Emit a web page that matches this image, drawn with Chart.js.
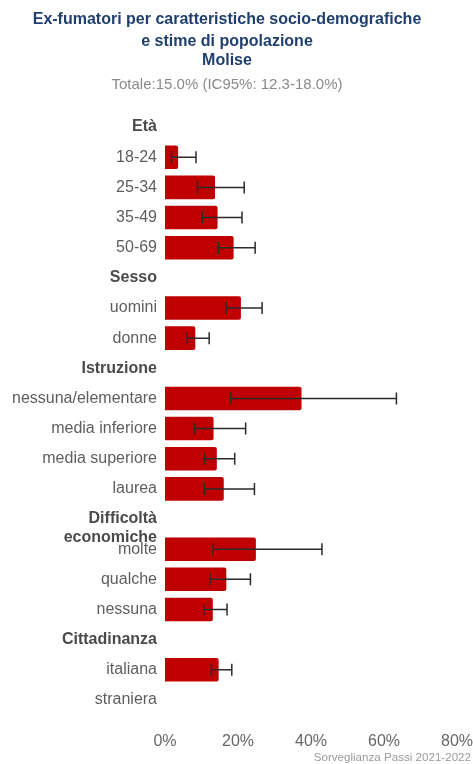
<!DOCTYPE html>
<html>
<head>
<meta charset="utf-8">
<script src="https://cdn.jsdelivr.net/npm/chart.js@4"></script>
<style>
  html, body { margin: 0; padding: 0; background: #fff; }
  #wrap { width: 473px; height: 764px; }
</style>
</head>
<body>
<div id="wrap"><canvas id="grafico" width="473" height="764"></canvas></div>
<script>
// --- Dati ---
const categorie = ['Età', '18-24', '25-34', '35-49', '50-69',
  'Sesso', 'uomini', 'donne',
  'Istruzione', 'nessuna/elementare', 'media inferiore', 'media superiore', 'laurea',
  ['', 'Difficoltà', 'economiche'], 'molte', 'qualche', 'nessuna',
  'Cittadinanza', 'italiana', 'straniera'];
const intestazioni = [0, 5, 8, 13, 17];
const valori = [null, 3.6, 13.7, 14.4, 18.8, null, 20.8, 8.3, null, 37.4, 13.3, 14.2, 16.1, null, 24.9, 16.8, 13.1, null, 14.7, null];
const icInf  = [null, 1.8, 8.9, 10.2, 14.6, null, 16.7, 6.1, null, 18.0, 8.1, 10.8, 10.8, null, 13.2, 12.3, 10.6, null, 12.7, null];
const icSup  = [null, 8.5, 21.7, 21.1, 24.7, null, 26.6, 12.1, null, 63.4, 22.1, 19.1, 24.5, null, 43.0, 23.4, 17.0, null, 18.3, null];
const tickX = [0, 20, 40, 60, 80];
const titolo = ['Ex-fumatori per caratteristiche socio-demografiche', 'e stime di popolazione', 'Molise'];
const sottotitolo = 'Totale:15.0% (IC95%: 12.3-18.0%)';
const fonte = 'Sorveglianza Passi 2021-2022';

const FONT = "'Liberation Sans', Arial, Helvetica, sans-serif";

// --- Barre di errore ---
const erroriPlugin = {
    id: 'errori',
    afterDatasetsDraw(chart) {
        const { ctx } = chart;
        const x = chart.scales.x, y = chart.scales.y;
        ctx.save();
        ctx.strokeStyle = '#2b2b2b';
        ctx.lineWidth = 1.5;
        valori.forEach((v, i) => {
            if (v === null || icInf[i] === null) return;
            const yc = y.getPixelForValue(i);
            const x1 = x.getPixelForValue(icInf[i]);
            const x2 = x.getPixelForValue(icSup[i]);
            ctx.beginPath();
            ctx.moveTo(x1, yc); ctx.lineTo(x2, yc);
            ctx.moveTo(x1, yc - 6); ctx.lineTo(x1, yc + 6);
            ctx.moveTo(x2, yc - 6); ctx.lineTo(x2, yc + 6);
            ctx.stroke();
        });
        ctx.restore();
    }
};

// --- Titolo, sottotitolo e fonte ---
const testiPlugin = {
    id: 'testi',
    afterDraw(chart) {
        const { ctx, width } = chart;
        ctx.save();
        ctx.textAlign = 'center';
        ctx.textBaseline = 'middle';
        ctx.font = 'bold 16px ' + FONT;
        ctx.fillStyle = '#1f3f6f';
        [20, 42, 61].forEach((yy, i) => ctx.fillText(titolo[i], 227, yy));
        ctx.font = '15px ' + FONT;
        ctx.fillStyle = '#8a8a8a';
        ctx.fillText(sottotitolo, 227, 85);
        ctx.font = '11.6px ' + FONT;
        ctx.fillStyle = '#9a9a9a';
        ctx.textAlign = 'right';
        ctx.fillText(fonte, width - 2, 758);
        ctx.restore();
    }
};

new Chart(document.getElementById('grafico').getContext('2d'), {
    type: 'bar',
    data: {
        labels: categorie,
        datasets: [{
            data: valori,
            backgroundColor: '#c00000',
            borderRadius: 2,
            borderSkipped: 'start',
            barPercentage: 0.78,
            categoryPercentage: 1
        }]
    },
    options: {
        indexAxis: 'y',
        responsive: false,
        animation: false,
        layout: { padding: { left: 12, right: 0, bottom: 13, top: 112 } },
        plugins: {
            legend: { display: false },
            tooltip: { enabled: false }
        },
        scales: {
            x: {
                min: 0,
                max: 80,
                afterBuildTicks: s => { s.ticks = tickX.map(v => ({ value: v })); },
                afterFit: s => { s.height = 36; s.paddingRight = 16; s.paddingLeft = 0; },
                grid: { display: false, drawTicks: false },
                border: { display: false },
                ticks: {
                    padding: 17,
                    color: '#666',
                    font: { family: FONT, size: 16 },
                    callback: v => v + '%'
                }
            },
            y: {
                afterFit: s => { s.width = 153; },
                grid: { display: false, drawTicks: false },
                border: { display: false },
                ticks: {
                    padding: 8,
                    autoSkip: false,
                    color: ctx => intestazioni.includes(ctx.index) ? '#4a4a4a' : '#5e5e5e',
                    font: ctx => ({
                        family: FONT,
                        size: 16,
                        lineHeight: 1.15,
                        weight: intestazioni.includes(ctx.index) ? 'bold' : 'normal'
                    })
                }
            }
        }
    },
    plugins: [erroriPlugin, testiPlugin]
});
</script>
</body>
</html>
